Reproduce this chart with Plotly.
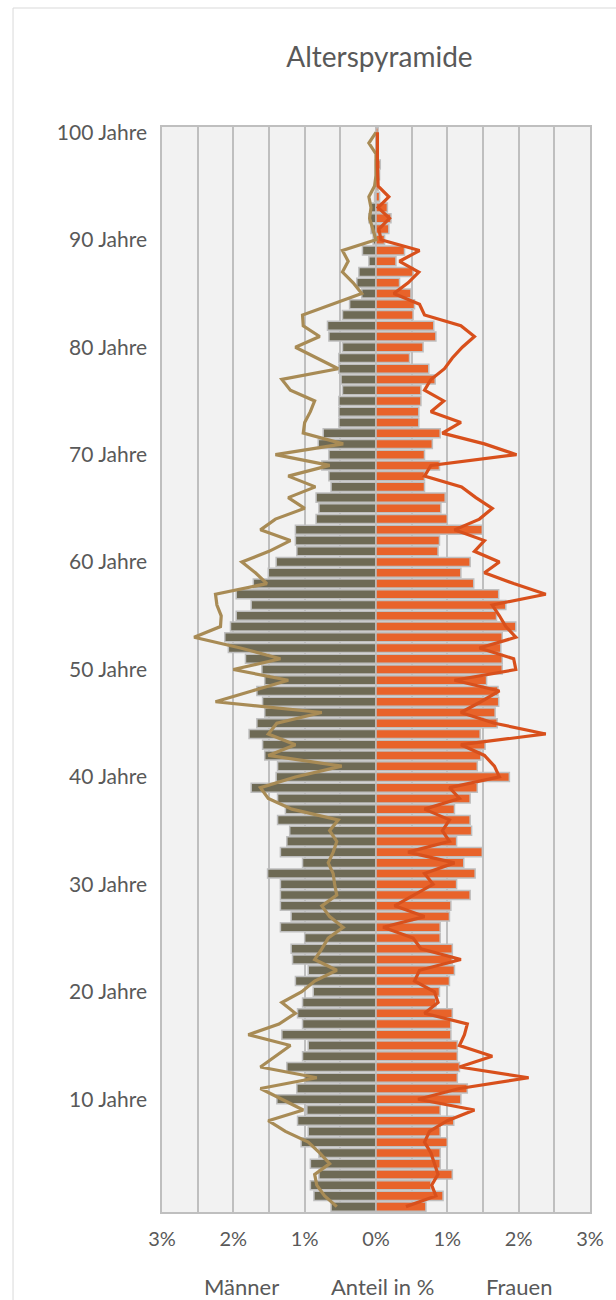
import plotly.graph_objects as go

ages = list(range(0, 101))

men_bars = [0.63, 0.87, 0.92, 0.80, 0.92, 0.80, 1.05, 0.95, 1.10, 0.97,
            1.39, 1.11, 1.00, 1.25, 1.03, 0.95, 1.32, 1.03, 1.10, 1.03,
            0.88, 1.13, 0.95, 1.17, 1.19, 1.00, 1.34, 1.19, 1.34, 1.34,
            1.34, 1.52, 1.03, 1.34, 1.25, 1.21, 1.38, 1.27, 1.38, 1.75,
            1.40, 1.38, 1.56, 1.59, 1.78, 1.67, 1.56, 1.59, 1.67, 1.56,
            1.60, 1.83, 2.07, 2.12, 2.04, 1.96, 1.75, 1.96, 1.72, 1.51,
            1.40, 1.11, 1.13, 1.13, 0.84, 0.80, 0.84, 0.63, 0.66, 0.76,
            0.66, 0.81, 0.74, 0.52, 0.52, 0.52, 0.47, 0.49, 0.52, 0.52,
            0.47, 0.66, 0.68, 0.47, 0.37, 0.20, 0.27, 0.24, 0.10, 0.19,
            0.04, 0.07, 0.10, 0.07, 0.02, 0.01, 0.01, 0.01, 0.00, 0.00,
            0.00]

women_bars = [0.70, 0.94, 0.77, 1.07, 0.90, 0.90, 1.00, 0.90, 1.09, 0.90,
              1.19, 1.28, 1.14, 1.17, 1.14, 1.14, 1.05, 1.05, 1.07, 0.84,
              0.89, 1.03, 1.10, 1.07, 1.07, 0.90, 0.90, 1.03, 1.05, 1.32,
              1.13, 1.39, 1.23, 1.49, 1.13, 1.34, 1.32, 1.10, 1.32, 1.42,
              1.87, 1.42, 1.47, 1.53, 1.46, 1.70, 1.67, 1.72, 1.71, 1.55,
              1.77, 1.77, 1.75, 1.77, 1.96, 1.69, 1.82, 1.72, 1.37, 1.19,
              1.32, 0.87, 0.89, 1.49, 1.00, 0.91, 0.97, 0.68, 0.68, 0.89,
              0.68, 0.79, 0.90, 0.60, 0.60, 0.63, 0.63, 0.83, 0.74, 0.47,
              0.66, 0.84, 0.81, 0.52, 0.54, 0.49, 0.33, 0.52, 0.28, 0.40,
              0.12, 0.18, 0.21, 0.16, 0.05, 0.03, 0.05, 0.06, 0.02, 0.03,
              0.03]

men_line = [0.55, 0.72, 0.83, 0.86, 0.65, 0.79, 0.95, 1.27, 1.51, 1.02,
            1.32, 1.62, 0.83, 1.62, 1.41, 1.20, 1.79, 1.36, 1.13, 1.32,
            1.04, 0.86, 0.55, 0.86, 0.76, 0.67, 0.46, 0.65, 0.76, 0.55,
            0.58, 0.60, 0.67, 0.60, 0.55, 0.65, 0.53, 1.18, 1.51, 1.62,
            1.13, 0.48, 1.51, 1.13, 1.51, 1.39, 0.76, 2.25, 1.74, 1.23,
            2.00, 1.34, 1.90, 2.55, 2.18, 2.17, 2.23, 2.25, 1.53, 1.69,
            1.88, 1.50, 1.20, 1.62, 1.41, 1.00, 1.23, 0.85, 1.23, 0.65,
            1.41, 0.46, 1.02, 1.00, 0.92, 0.86, 1.20, 1.32, 0.53, 0.83,
            1.13, 0.79, 1.02, 1.03, 0.60, 0.20, 0.32, 0.47, 0.39, 0.47,
            0.00, 0.04, 0.09, 0.07, 0.10, 0.02, 0.00, 0.00, 0.00, 0.10,
            0.00]

women_line = [0.42, 0.84, 0.78, 0.87, 0.82, 0.77, 0.68, 0.75, 1.00, 1.38,
              0.59, 1.17, 2.14, 1.17, 1.63, 1.17, 1.24, 1.28, 0.68, 0.87,
              0.82, 0.54, 0.61, 1.19, 0.63, 0.52, 0.10, 0.68, 0.26, 0.54,
              0.80, 0.68, 1.10, 0.45, 1.03, 0.93, 1.03, 0.68, 1.17, 1.03,
              1.73, 1.66, 1.52, 1.19, 2.38, 1.66, 1.19, 1.47, 1.73, 1.10,
              1.96, 1.93, 1.45, 1.96, 1.82, 1.73, 1.63, 2.38, 1.93, 1.52,
              1.73, 1.38, 1.52, 1.10, 1.45, 1.63, 1.40, 1.20, 0.68, 0.77,
              1.97, 1.52, 0.93, 1.19, 0.77, 0.95, 0.68, 0.77, 0.96, 1.07,
              1.21, 1.38, 1.19, 0.68, 0.61, 0.25, 0.45, 0.60, 0.33, 0.61,
              0.07, 0.04, 0.19, 0.03, 0.18, 0.03, 0.02, 0.02, 0.02, 0.02,
              0.02]

y_tick_vals = [10, 20, 30, 40, 50, 60, 70, 80, 90, 100]
y_tick_text = ["10 Jahre", "20 Jahre", "30 Jahre", "40 Jahre", "50 Jahre",
               "60 Jahre", "70 Jahre", "80 Jahre", "90 Jahre", "100 Jahre"]
x_tick_vals = [-3, -2.5, -2, -1.5, -1, -0.5, 0, 0.5, 1, 1.5, 2, 2.5, 3]
x_tick_text = ["3%", "", "2%", "", "1%", "", "0%", "", "1%", "", "2%", "", "3%"]

FONT = "Lato, 'Open Sans', sans-serif"
TXT = "#595959"
W, H = 616, 1300
L, R, T, B = 162, 23, 127, 88
PW, PH = W - L - R, H - T - B

fig = go.Figure()
fig.add_trace(go.Bar(y=ages, x=[-v for v in men_bars], orientation="h", width=0.84,
                     marker=dict(color="#6e6a55", line=dict(color="#bfbfbf", width=1.5)),
                     name="Männer"))
fig.add_trace(go.Bar(y=ages, x=women_bars, orientation="h", width=0.84,
                     marker=dict(color="#e8632a", line=dict(color="#bfbfbf", width=1.5)),
                     name="Frauen"))
fig.add_trace(go.Scatter(y=ages, x=[-v for v in men_line], mode="lines",
                         line=dict(color="#a88b55", width=3.2), name="Männer Vergleich"))
fig.add_trace(go.Scatter(y=ages, x=women_line, mode="lines",
                         line=dict(color="#d8501c", width=3.2), name="Frauen Vergleich"))

def px_x(p):
    return (p - L) / PW

def px_y(p):
    return 1 - (p - T) / PH

fig.update_layout(
    width=W, height=H,
    margin=dict(l=L, r=R, t=T, b=B),
    barmode="overlay",
    showlegend=False,
    paper_bgcolor="white",
    plot_bgcolor="#f2f2f2",
    font=dict(family=FONT, color=TXT),
    title=dict(text="Alterspyramide", x=px_x(381), xref="paper", xanchor="center",
               y=1 - 57 / H, yref="container", yanchor="middle",
               font=dict(size=28, color=TXT, family=FONT)),
    xaxis=dict(range=[-3, 3], tickvals=x_tick_vals, ticktext=x_tick_text,
               showgrid=True, gridcolor="#bfbfbf", gridwidth=1.5,
               zeroline=False, showline=True, linecolor="#bfbfbf", linewidth=1.5,
               mirror=True, ticks="", ticklabelstandoff=8,
               tickfont=dict(size=20, color=TXT, family=FONT), fixedrange=True),
    yaxis=dict(range=[-0.5, 100.5], tickvals=y_tick_vals, ticktext=y_tick_text,
               showgrid=False, zeroline=False, showline=True, linecolor="#bfbfbf",
               linewidth=1.5, mirror=True, ticks="", ticklabelstandoff=9,
               tickfont=dict(size=21, color=TXT, family=FONT), fixedrange=True),
)

for txt, cx in [("Männer", 242), ("Anteil in %", 384), ("Frauen", 521)]:
    fig.add_annotation(text=txt, xref="paper", yref="paper", x=px_x(cx), y=px_y(1286),
                       xanchor="center", yanchor="middle", showarrow=False,
                       font=dict(size=22, color=TXT, family=FONT))

# outer chart border (top and left edges visible)
fig.add_shape(type="line", xref="paper", yref="paper", x0=px_x(12), x1=px_x(620),
              y0=px_y(8), y1=px_y(8), line=dict(color="#d9d9d9", width=1))
fig.add_shape(type="line", xref="paper", yref="paper", x0=px_x(12), x1=px_x(12),
              y0=px_y(8), y1=px_y(1305), line=dict(color="#d9d9d9", width=1))

fig.write_html("out.html", config={"displayModeBar": False})
with open("out.html", "r", encoding="utf-8") as f:
    html = f.read()
html = html.replace("<head>", "<head><style>html,body{margin:0;padding:0;overflow:hidden;}</style>", 1)
with open("out.html", "w", encoding="utf-8") as f:
    f.write(html)
